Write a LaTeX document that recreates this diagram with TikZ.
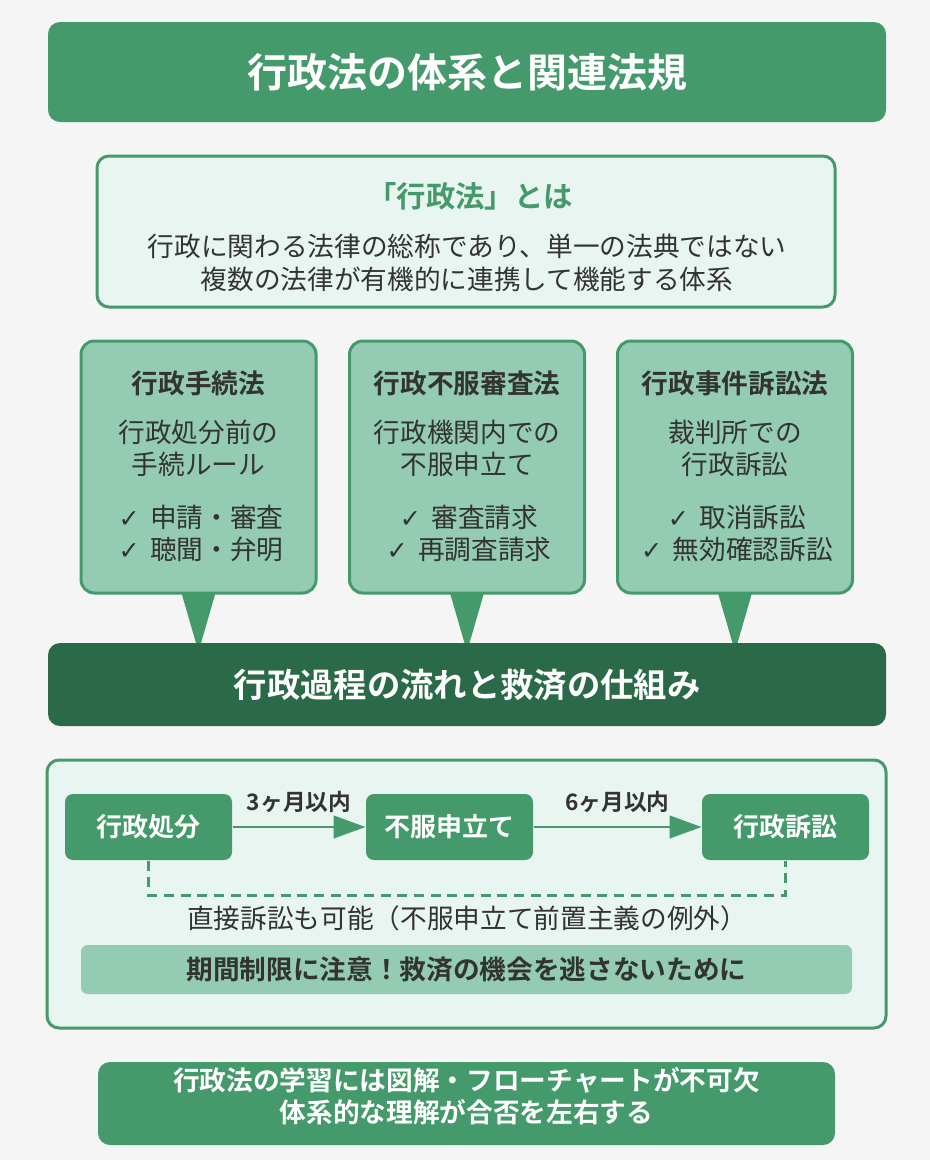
\documentclass[tikz,border=0pt]{standalone}
\usepackage{fontspec}
\setmainfont{Noto Sans CJK JP}[BoldFont={Noto Sans CJK JP Bold}]
\newfontfamily\checkfont{DejaVu Sans}
\usetikzlibrary{arrows.meta}

\definecolor{lawgreen}{HTML}{449A6B}
\definecolor{lawdark}{HTML}{2B6A48}
\definecolor{lawpale}{HTML}{E9F5F0}
\definecolor{lawmint}{HTML}{93CCB2}
\definecolor{lawink}{HTML}{333333}
\definecolor{lawbg}{HTML}{F5F5F5}

\newcommand{\chk}{{\checkfont\fontsize{19}{20}\selectfont ✓}\ \,}

\tikzset{every picture/.style={line width=0.75pt}}
\tikzset{
  banner/.style={fill=lawgreen, rounded corners=9pt, inner sep=0pt, text=white},
  panel/.style={fill=lawpale, draw=lawgreen, line width=2.25pt, rounded corners=9pt, inner sep=0pt},
  lawbox/.style={fill=lawmint, draw=lawgreen, line width=2.25pt, rounded corners=10pt, inner sep=0pt,
    minimum width=176.25pt, minimum height=189pt},
  flowbox/.style={fill=lawgreen, rounded corners=6pt, inner sep=0pt, text=white,
    minimum width=125.25pt, minimum height=49.5pt, font=\bfseries\fontsize{19.5}{24}\selectfont},
  bodytext/.style={text=lawink, inner sep=0.75pt, align=center, font=\fontsize{20}{24}\selectfont},
  headtext/.style={text=lawink, inner sep=0.75pt, font=\bfseries\fontsize{20}{24}\selectfont},
  steplabel/.style={text=lawink, inner sep=0.75pt, font=\bfseries\fontsize{17}{20}\selectfont},
  pointer/.style={fill=lawgreen},
  flowarrow/.style={draw=lawgreen, line width=1.5pt, -{Triangle[length=24pt,width=17pt]}}
}

\begin{document}
\begin{tikzpicture}[x=0.75pt,y=0.75pt,yscale=-1,xscale=1]
%set diagram left start at 0, and has height of 1160
\fill[lawbg] (0,0) rectangle (930,1160);
\useasboundingbox (0,0) rectangle (930,1160);

%Title banner
\node[banner, minimum width=628.5pt, minimum height=75pt, font=\bfseries\fontsize{30}{36}\selectfont] (title) at (467,72) {行政法の体系と関連法規};

%Definition panel
\node[panel, minimum width=553.5pt, minimum height=113.25pt] (defbox) at (466,231.5) {};
% Text Node
\node[headtext, text=lawgreen, font=\bfseries\fontsize{22}{26}\selectfont] (defhead) at (470,196) {「行政法」とは};
% Text Node
\node[bodytext, font=\fontsize{20}{24.75}\selectfont] (defbody) at (467,262.5) {行政に関わる法律の総称であり、単一の法典ではない\\複数の法律が有機的に連携して機能する体系};

%Pointers from the three laws
\fill[pointer] (198.5,593) ++(-17,0) -- ++(34,0) -- ++(-14.5,50) -- ++(-5,0) -- cycle ;
\fill[pointer] (467,593) ++(-17,0) -- ++(34,0) -- ++(-14.5,50) -- ++(-5,0) -- cycle ;
\fill[pointer] (735,593) ++(-17,0) -- ++(34,0) -- ++(-14.5,50) -- ++(-5,0) -- cycle ;

%Law boxes
\node[lawbox] (tetsuzuki) at (198.5,467) {};
\node[lawbox] (fufuku) at (467,467) {};
\node[lawbox] (jiken) at (735,467) {};

% Text Node
\node[headtext] (tetsuzukihead) at (198.5,383) {行政手続法};
\node[bodytext] (tetsuzukibody) at (198.5,448) {行政処分前の\\手続ルール};
\node[bodytext] (tetsuzukicheck) at (201,533) {\chk 申請・審査\\\chk 聴聞・弁明};
% Text Node
\node[headtext] (fufukuhead) at (467,383) {行政不服審査法};
\node[bodytext] (fufukubody) at (467,448) {行政機関内での\\不服申立て};
\node[bodytext] (fufukucheck) at (469,533) {\chk 審査請求\\\chk 再調査請求};
% Text Node
\node[headtext] (jikenhead) at (735,383) {行政事件訴訟法};
\node[bodytext] (jikenbody) at (735,448) {裁判所での\\行政訴訟};
\node[bodytext] (jikencheck) at (737,533) {\chk 取消訴訟\\\chk 無効確認訴訟};

%Process bar
\node[banner, fill=lawdark, minimum width=628.5pt, minimum height=62.25pt, font=\bfseries\fontsize{25}{30}\selectfont] (process) at (467,684.5) {行政過程の流れと救済の仕組み};

%Flow panel
\node[panel, minimum width=629.25pt, minimum height=201pt] (flowpanel) at (466.5,894) {};

\node[flowbox] (shobun) at (148.5,827) {行政処分};
\node[flowbox] (moushitate) at (449.5,827) {不服申立て};
\node[flowbox] (sosho) at (785.5,827) {行政訴訟};

%Arrows
\draw[flowarrow] (shobun) -- (moushitate) node[steplabel, midway, yshift=19pt] (label1) {3ヶ月以内};
\draw[flowarrow] (moushitate) -- (sosho) node[steplabel, midway, yshift=19pt] (label2) {6ヶ月以内};

%Direct suit (dashed)
\coordinate (detour) at (148.5,895);
\draw[draw=lawgreen, line width=2.25pt, dash pattern=on 7.5pt off 5pt] (shobun.south) -- (detour) -| (sosho.south) ;

% Text Node
\node[bodytext] (direct) at (467,918) {直接訴訟も可能（不服申立て前置主義の例外）};

%Warning strip
\node[fill=lawmint, rounded corners=5pt, inner sep=0pt, minimum width=578.25pt, minimum height=36.75pt, headtext] (warning) at (466.5,969.5) {期間制限に注意！救済の機会を逃さないために};

%Closing banner
\node[banner, minimum width=552.75pt, minimum height=62.25pt] (closing) at (466.5,1103.5) {};
% Text Node
\node[headtext, text=white, align=center] (closingtext) at (466.5,1096) {行政法の学習には図解・フローチャートが不可欠\\体系的な理解が合否を左右する};

\end{tikzpicture}
\end{document}
